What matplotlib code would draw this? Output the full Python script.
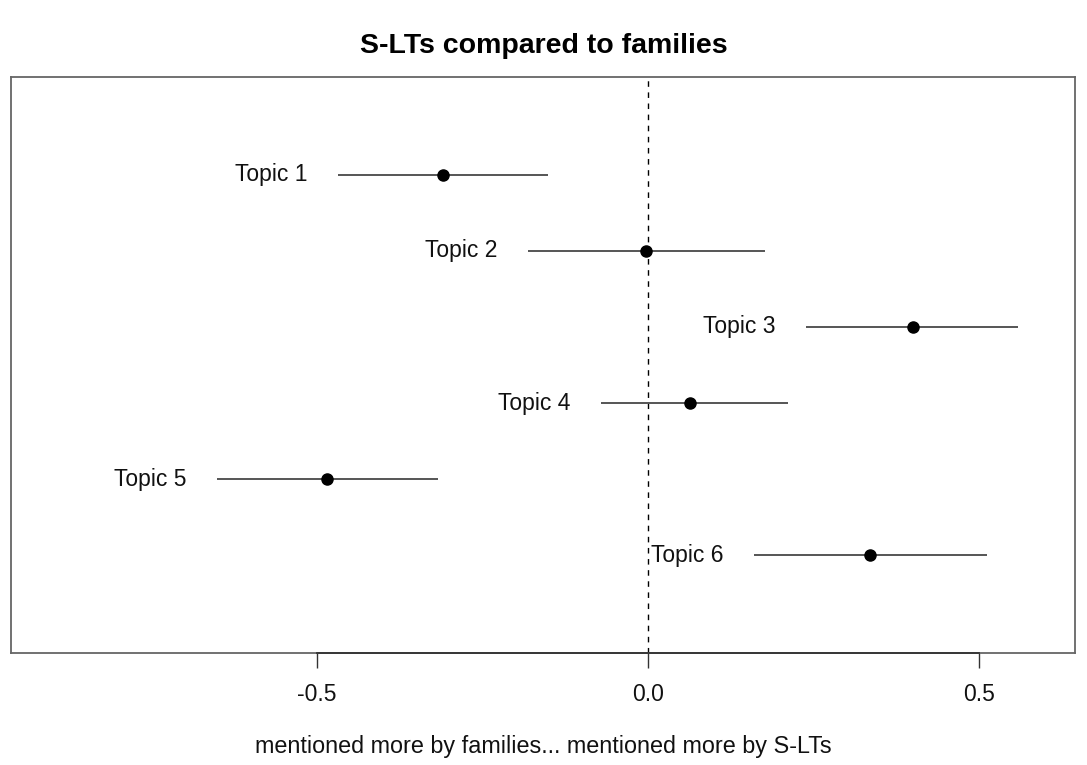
import matplotlib
matplotlib.use("Agg")
import matplotlib.pyplot as plt

topics = ["Topic 1", "Topic 2", "Topic 3", "Topic 4", "Topic 5", "Topic 6"]
estimates = [-0.310, -0.003, 0.400, 0.063, -0.485, 0.335]
ci_lower = [-0.468, -0.181, 0.239, -0.071, -0.651, 0.160]
ci_upper = [-0.151, 0.177, 0.559, 0.211, -0.317, 0.512]
xticks = [-0.5, 0.0, 0.5]
xtick_labels = ["-0.5", "0.0", "0.5"]

plt.rcParams['font.family'] = ['Liberation Sans', 'DejaVu Sans']

fig = plt.figure(figsize=(10.87, 7.65), dpi=100)
ax = fig.add_axes([11/1087, 1-653/765, (1075-11)/1087, (653-77)/765])

n = len(topics)
ys = [n - i for i in range(n)]
ax.axvline(0, color='black', lw=1.0, ls=(0, (4, 4)), zorder=1)
for y, lo, hi, est, lab in zip(ys, ci_lower, ci_upper, estimates, topics):
    ax.plot([lo, hi], [y, y], color='#555555', lw=1.4, solid_capstyle='butt', zorder=2)
    ax.plot([est], [y], 'o', color='black', ms=8, zorder=3)
    ax.annotate(lab, xy=(lo, y), xytext=(-22, 0), textcoords='offset points',
                ha='right', va='center', fontsize=16.5, color='#111111')

ax.set_xlim(-0.962, 0.645)
ax.set_ylim(-0.28, 7.28)
ax.set_yticks([])
ax.set_xticks(xticks)
ax.set_xticklabels(xtick_labels, fontsize=16.5, color='#111111')
ax.tick_params(axis='x', length=10.8, width=1.0, pad=11, color='#333333')
for s in ax.spines.values():
    s.set_color('#666666')
    s.set_linewidth(1.3)
ax.plot([xticks[0], xticks[-1]], [-0.28, -0.28], color='#333333', lw=1.3,
        clip_on=False, zorder=5)

fig.text(0.5, 1-46/765, "S-LTs compared to families", ha='center', va='center',
         fontsize=20.5, fontweight='bold')
fig.text(0.5, 1-746/765, "mentioned more by families... mentioned more by S-LTs",
         ha='center', va='center', fontsize=16.8, color='#111111')

fig.savefig("out.png", dpi=100)
